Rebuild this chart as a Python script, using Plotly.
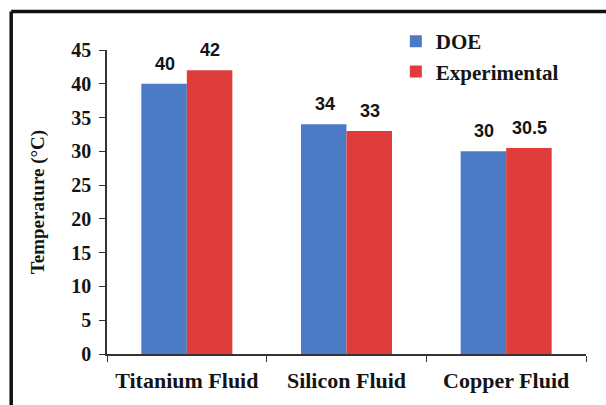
import plotly.graph_objects as go

categories = ["Titanium Fluid", "Silicon Fluid", "Copper Fluid"]
doe = [40, 34, 30]
experimental = [42, 33, 30.5]
doe_labels = ["40", "34", "30"]
exp_labels = ["42", "33", "30.5"]
y_ticks = [0, 5, 10, 15, 20, 25, 30, 35, 40, 45]

serif = "Liberation Serif"
sans = "Liberation Sans"
ink = "#141414"

fig = go.Figure()
fig.add_trace(go.Bar(name="DOE", x=categories, y=doe, marker_color="#4A7BC4",
                     marker_line_width=0))
fig.add_trace(go.Bar(name="Experimental", x=categories, y=experimental, marker_color="#E03C3C",
                     marker_line_width=0))

# value labels above each bar
for cat, v, lab in zip(categories, doe, doe_labels):
    fig.add_annotation(x=cat, y=v, text=lab, showarrow=False, xshift=-22, yshift=8,
                       yanchor="bottom", font=dict(family=sans, size=18, color=ink, weight="bold"))
for cat, v, lab in zip(categories, experimental, exp_labels):
    fig.add_annotation(x=cat, y=v, text=lab, showarrow=False, xshift=23, yshift=8,
                       yanchor="bottom", font=dict(family=sans, size=18, color=ink, weight="bold"))

fig.update_layout(
    width=606, height=405,
    margin=dict(l=107, r=20, t=50, b=51, autoexpand=False),
    paper_bgcolor="white", plot_bgcolor="white",
    barmode="group", bargap=0.43, bargroupgap=0,
    showlegend=True,
    legend=dict(x=0.603, y=1.095, xanchor="left", yanchor="top",
                font=dict(family=serif, size=21, color=ink, weight="bold"),
                bgcolor="rgba(0,0,0,0)", itemwidth=30, tracegroupgap=0),
)
fig.update_xaxes(
    showline=True, linecolor="#333333", linewidth=1.5,
    ticks="outside", ticklen=6, tickcolor="#333333", tickson="boundaries",
    tickfont=dict(family=serif, size=22, color=ink, weight="bold"),
    ticklabelstandoff=6,
    showgrid=False,
)
fig.update_yaxes(
    range=[0, 45], tickvals=y_ticks,
    showline=True, linecolor="#333333", linewidth=1.5,
    ticks="outside", ticklen=6, tickcolor="#333333",
    tickfont=dict(family=serif, size=20, color=ink, weight="bold"),
    ticklabelstandoff=4,
    showgrid=False, zeroline=False,
    title=dict(text="Temperature (°C)", font=dict(family=serif, size=19, color=ink, weight="bold"), standoff=22),
)
# outer frame (left and top)
fig.add_shape(type="line", xref="paper", yref="paper", x0=-0.2, x1=1.06, y0=1.127, y1=1.127,
              line=dict(color="#111111", width=3.5))
fig.add_shape(type="line", xref="paper", yref="paper", x0=-0.2, x1=-0.2, y0=1.127, y1=-0.2,
              line=dict(color="#111111", width=3.5))

fig.write_html("out.html", config={"displayModeBar": False},
               post_script="document.body.style.margin='0';document.body.style.overflow='hidden';")
